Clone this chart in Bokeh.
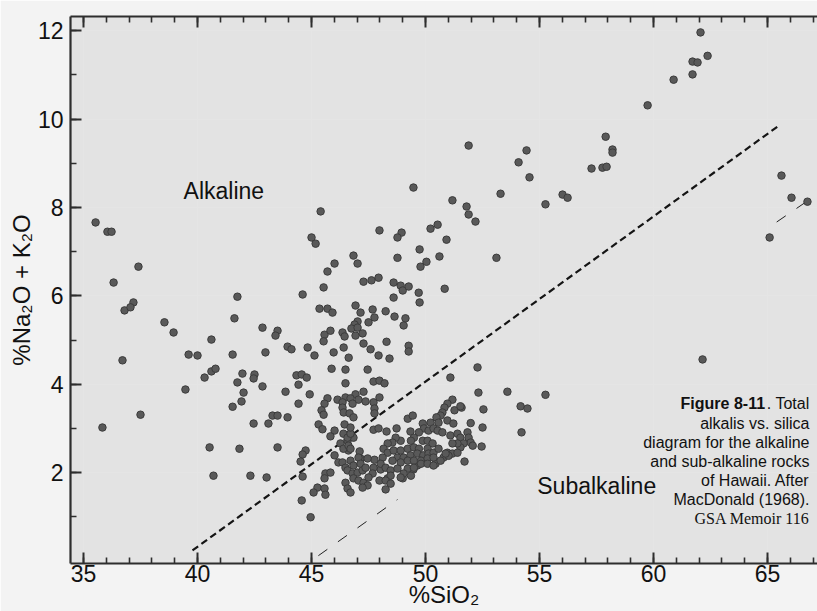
from bokeh.plotting import figure
from bokeh.models import Range1d, FixedTicker, Label, LinearAxis
from bokeh.embed import file_html
from bokeh.resources import INLINE

# ---------------- data: (SiO2 wt%, Na2O+K2O wt%) ----------------
alkaline_left = [
    (35.53, 7.66), (36.05, 7.45), (36.23, 7.45), (37.41, 6.66), (36.32, 6.30), (41.75, 5.98),
    (37.19, 5.85), (36.80, 5.67), (37.06, 5.74), (38.55, 5.40), (38.95, 5.17), (41.62, 5.49),
    (40.61, 5.01), (42.85, 5.28), (43.51, 5.21), (43.42, 5.10), (43.95, 4.85), (44.12, 4.79),
    (36.71, 4.54), (39.61, 4.67), (40.00, 4.65), (41.54, 4.67), (42.98, 4.72), (40.31, 4.15),
    (40.61, 4.29), (40.79, 4.35), (41.75, 4.04), (41.97, 4.24), (42.50, 4.22), (42.46, 4.13),
    (39.47, 3.88), (42.02, 3.81), (41.93, 3.61), (42.85, 3.95), (43.86, 3.83), (44.34, 4.20),
    (44.43, 3.99), (44.43, 3.56), (37.50, 3.31), (41.54, 3.49), (43.29, 3.29), (43.51, 3.29),
    (43.95, 3.25), (42.46, 3.11), (43.11, 3.11), (35.83, 3.02), (40.53, 2.57), (41.84, 2.54),
    (43.51, 2.57), (40.70, 1.93), (42.32, 1.93), (43.03, 1.89),
]
group_45 = [
    (44.61, 6.03), (45.35, 5.71), (45.70, 5.71), (45.92, 5.62), (45.00, 7.32), (45.18, 7.18),
    (45.40, 7.91), (46.01, 6.73), (45.70, 6.55), (45.53, 6.19), (44.83, 4.83), (45.13, 4.65),
    (45.57, 5.12), (45.83, 5.21), (45.53, 4.97), (45.97, 4.72), (45.88, 4.35), (44.57, 4.22),
    (44.79, 4.15), (44.92, 3.77), (45.70, 3.68), (46.14, 3.65), (45.57, 3.56), (45.44, 3.41),
    (45.53, 3.31), (45.31, 3.09), (45.48, 2.98), (46.01, 2.95), (45.83, 2.82), (44.74, 2.50),
    (44.61, 2.41), (44.52, 2.25), (44.61, 1.91), (44.57, 1.37), (46.01, 2.39), (46.18, 2.23),
    (45.61, 1.98), (45.83, 2.00), (45.57, 1.87), (45.26, 1.66), (45.09, 1.55), (45.57, 1.64),
    (45.61, 1.50), (44.96, 0.99),
]
alkaline_upper = [
    (49.47, 8.45), (51.18, 8.16), (51.80, 8.02), (51.89, 7.84), (52.19, 7.68), (51.89, 9.40),
    (47.98, 7.48), (48.95, 7.43), (48.77, 7.32), (50.22, 7.52), (50.53, 7.61), (50.92, 7.27),
    (49.74, 7.05), (46.84, 6.91), (47.02, 6.73), (48.77, 6.86), (50.61, 6.89), (50.04, 6.77),
    (49.78, 6.66), (53.11, 6.86), (47.28, 6.32), (47.63, 6.35), (47.94, 6.41), (48.60, 6.30),
    (48.91, 6.23), (49.00, 6.12), (49.26, 6.21), (49.70, 6.07), (50.84, 6.16), (48.60, 5.96),
    (49.74, 5.85), (46.93, 5.78), (47.15, 5.62), (47.68, 5.69), (47.76, 5.51), (48.25, 5.65),
    (48.64, 5.53), (49.12, 5.49), (49.04, 5.33), (47.50, 5.40), (47.02, 5.42), (46.89, 5.35),
    (46.75, 5.26), (47.02, 5.28), (46.93, 5.10), (47.24, 5.15), (46.36, 5.17), (46.45, 5.08),
    (46.41, 4.83), (47.28, 4.92), (47.59, 4.79), (48.29, 4.96), (49.26, 4.87), (49.26, 4.74),
    (46.63, 4.60), (47.94, 4.65), (48.42, 4.58), (52.28, 4.38), (46.49, 4.33), (47.46, 4.33),
]
evolved = [
    (62.06, 11.96), (61.71, 11.30), (61.93, 11.28), (62.37, 11.43), (61.71, 11.01), (60.88, 10.89),
    (59.74, 10.31), (57.90, 9.60), (58.20, 9.31), (58.20, 9.24), (57.28, 8.88), (57.76, 8.90),
    (57.94, 8.92), (54.43, 9.29), (54.08, 9.02), (54.56, 8.68), (53.29, 8.31), (55.26, 8.07),
    (56.01, 8.29), (56.23, 8.22), (65.61, 8.72), (66.05, 8.22), (66.75, 8.13), (65.09, 7.32),
    (62.15, 4.56),
]
middle = [
    (46.49, 4.02), (47.72, 4.06), (47.98, 4.08), (48.20, 4.02), (47.28, 3.83), (46.93, 3.77),
    (46.49, 3.70), (46.71, 3.68), (47.06, 3.65), (47.37, 3.61), (47.72, 3.59), (47.98, 3.70),
    (46.80, 3.56), (46.36, 3.59), (47.76, 3.45), (47.76, 3.34), (46.36, 3.47), (46.41, 3.36),
    (46.67, 3.34), (46.84, 3.25), (46.45, 3.09), (51.09, 4.15), (52.32, 3.81), (52.54, 3.43),
    (53.59, 3.83), (54.17, 3.50), (54.47, 3.45), (55.26, 3.76), (54.21, 2.91), (52.50, 3.02),
    (52.46, 2.59), (51.71, 2.25), (51.98, 3.12), (51.58, 3.47), (47.72, 2.97), (47.94, 3.00),
    (48.29, 2.93), (48.73, 3.00), (49.34, 2.93), (50.44, 2.20), (49.00, 1.87), (48.34, 1.87),
    (49.47, 2.07), (49.64, 2.16), (48.03, 2.07), (47.11, 2.48), (46.62, 2.50), (47.15, 2.32),
]
tholeiite_cluster = [
    (51.18, 3.65), (50.96, 3.56), (50.83, 3.47), (50.74, 3.36), (51.27, 3.41), (51.53, 3.50),
    (50.66, 3.29), (50.48, 3.25), (50.57, 3.13), (50.96, 3.18), (51.22, 3.11), (49.22, 3.22),
    (49.44, 3.29), (49.88, 3.11), (49.93, 3.00), (50.22, 3.13), (50.13, 2.95), (50.35, 3.00),
    (50.53, 2.95), (50.74, 2.91), (51.09, 2.84), (51.40, 2.88), (51.53, 2.79), (51.84, 2.91),
    (51.89, 2.79), (51.98, 2.68), (52.07, 2.61), (51.67, 2.66), (51.53, 2.57), (51.40, 2.66),
    (51.18, 2.66), (50.96, 2.45), (51.18, 2.43), (51.40, 2.45), (50.79, 2.34), (51.01, 2.38),
    (49.71, 2.91), (49.49, 2.79), (49.36, 2.72), (49.88, 2.72), (50.09, 2.72), (50.31, 2.66),
    (50.09, 2.54), (48.91, 2.72), (48.69, 2.79), (48.55, 2.68), (48.34, 2.66), (48.16, 2.54),
    (48.34, 2.45), (48.60, 2.50), (48.91, 2.50), (49.22, 2.54), (49.49, 2.57), (49.71, 2.54),
    (48.77, 2.34), (49.04, 2.34), (49.34, 2.39), (49.64, 2.43), (49.90, 2.39), (50.13, 2.43),
    (50.35, 2.45), (50.57, 2.54), (48.55, 2.27), (48.91, 2.23), (49.22, 2.27), (49.49, 2.27),
    (49.80, 2.27), (50.09, 2.32), (50.35, 2.34), (50.66, 2.27), (50.88, 2.43), (49.22, 2.09),
    (49.49, 2.11), (49.80, 2.20), (50.09, 2.20), (50.35, 2.16), (48.12, 2.34), (48.03, 2.20),
    (48.25, 2.11), (48.47, 2.05), (48.77, 2.09), (49.04, 1.98), (48.47, 1.93), (48.91, 1.89),
    (49.36, 1.93), (47.76, 2.29), (47.72, 2.11), (47.98, 1.82), (48.25, 1.82), (48.47, 1.75),
    (48.25, 1.62), (47.46, 2.32), (47.68, 1.98),
]
picrite_cluster = [
    (46.27, 2.66), (46.40, 2.54), (46.58, 2.72), (46.62, 2.61), (46.71, 2.54), (46.84, 2.79),
    (46.36, 2.23), (46.49, 2.11), (46.71, 2.27), (46.84, 2.16), (47.06, 2.34), (47.15, 2.20),
    (46.58, 2.05), (46.80, 1.98), (47.02, 2.00), (47.24, 2.05), (47.37, 2.11), (46.84, 1.87),
    (47.06, 1.82), (47.28, 1.77), (47.46, 1.71), (47.24, 1.66), (46.49, 1.77), (46.58, 1.64),
    (46.71, 1.55), (47.50, 1.89), (46.40, 2.88), (46.58, 2.79), (46.71, 2.88), (46.71, 3.02),
]

# dividing lines (SiO2, alkalis)
divider_sio2 = [39.78, 65.44]
divider_alk = [0.24, 9.83]
faint_x0 = [45.30, 65.40]
faint_y0 = [0.12, 7.67]
faint_x1 = [48.77, 67.10]
faint_y1 = [1.39, 8.27]

x_major = [35, 40, 45, 50, 55, 60, 65]
x_minor = list(range(34, 68))
y_major = [2, 4, 6, 8, 10, 12]
y_minor = list(range(1, 13))

all_pts = (alkaline_left + group_45 + alkaline_upper + evolved + middle
           + tholeiite_cluster + picrite_cluster)
xs = [p_[0] for p_ in all_pts]
ys = [p_[1] for p_ in all_pts]

FONT = "Liberation Sans"
INK = "#2e2e2e"

p = figure(width=817, height=611, output_backend="svg", toolbar_location=None,
           x_range=Range1d(34.43, 67.19), y_range=Range1d(-0.057, 12.32),
           x_axis_location=None, y_axis_location=None,
           min_border_left=70, min_border_right=0, min_border_top=16, min_border_bottom=48)
p.background_fill_color = "#e3e3e3"
p.border_fill_color = "#f3f3f3"
p.outline_line_color = None


def style(ax):
    ax.axis_line_color = INK
    ax.axis_line_width = 2.2
    ax.major_tick_in = 11
    ax.major_tick_out = 0
    ax.minor_tick_in = 6
    ax.minor_tick_out = 0
    ax.major_tick_line_color = INK
    ax.major_tick_line_width = 2
    ax.minor_tick_line_color = INK
    ax.minor_tick_line_width = 1.6
    ax.major_label_text_font = FONT
    ax.major_label_text_font_size = "23px"
    ax.major_label_text_color = "#111111"
    ax.axis_label_text_font = FONT
    ax.axis_label_text_font_size = "24px"
    ax.axis_label_text_font_style = "normal"
    ax.axis_label_text_color = "#111111"


xb = LinearAxis(ticker=FixedTicker(ticks=x_major, minor_ticks=x_minor), axis_label="%SiO₂")
style(xb)
xb.major_label_standoff = 1
xb.axis_label_standoff = -4
p.add_layout(xb, "below")

# top spine with ticks only (no labels)
xt = LinearAxis(ticker=FixedTicker(ticks=x_major, minor_ticks=x_minor),
                major_label_overrides={t: "" for t in x_major})
style(xt)
xt.major_label_standoff = 0
p.add_layout(xt, "above")

yl = LinearAxis(ticker=FixedTicker(ticks=y_major, minor_ticks=y_minor),
                axis_label="%Na₂O + K₂O")
style(yl)
yl.major_label_standoff = 7
yl.axis_label_standoff = 0
p.add_layout(yl, "left")

p.line(divider_sio2, divider_alk, line_color="#151515", line_width=2.2, line_dash="7 4")
p.segment(faint_x0, faint_y0, faint_x1, faint_y1, line_color="#222222",
          line_width=1, line_dash="11 13")

p.scatter(xs, ys, size=7.5, fill_color="#595959", line_color="#3c3c3c", line_width=1)

p.add_layout(Label(x=39.39, y=8.38, text="Alkaline", text_font=FONT, text_font_size="23px",
                   text_baseline="middle", text_color="#111111"))
p.add_layout(Label(x=54.9, y=1.70, text="Subalkaline", text_font=FONT, text_font_size="23px",
                   text_baseline="middle", text_color="#111111"))

cap_x = 66.84
p.add_layout(Label(x=cap_x, y=3.56, text=". Total", text_font=FONT, text_font_size="16px",
                   text_align="right", text_baseline="middle", text_color="#111111"))
p.add_layout(Label(x=cap_x - 1.95, y=3.56, text="Figure 8-11", text_font=FONT,
                   text_font_size="16px", text_font_style="bold", text_align="right",
                   text_baseline="middle", text_color="#111111"))
cap_lines = ["alkalis vs. silica", "diagram for the alkaline", "and sub-alkaline rocks",
             "of Hawaii. After", "MacDonald (1968)."]
cap_y = [3.11, 2.68, 2.25, 1.82, 1.39]
for t, yy in zip(cap_lines, cap_y):
    p.add_layout(Label(x=cap_x, y=yy, text=t, text_font=FONT, text_font_size="16px",
                       text_align="right", text_baseline="middle", text_color="#111111"))
p.add_layout(Label(x=cap_x, y=0.96, text="GSA Memoir 116", text_font="Liberation Serif",
                   text_font_size="16px", text_align="right", text_baseline="middle",
                   text_color="#111111"))

open("out.html", "w").write(file_html(p, INLINE))
